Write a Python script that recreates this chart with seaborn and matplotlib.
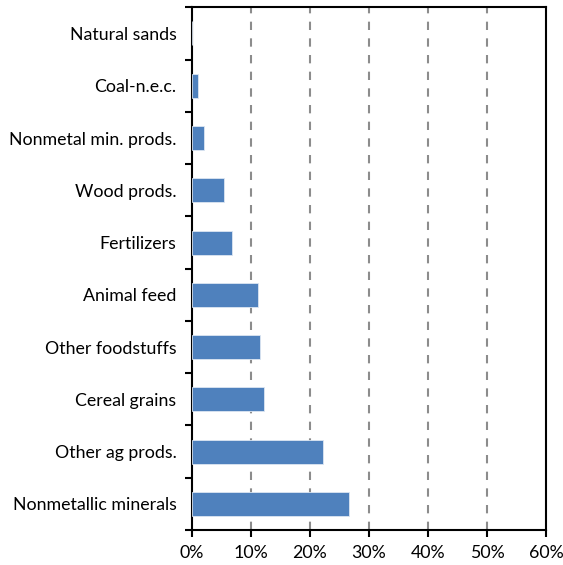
import matplotlib
matplotlib.use("Agg")
import matplotlib.pyplot as plt
import seaborn as sns
import pandas as pd
from matplotlib.ticker import FixedLocator, PercentFormatter

categories = [
    "Natural sands",
    "Coal-n.e.c.",
    "Nonmetal min. prods.",
    "Wood prods.",
    "Fertilizers",
    "Animal feed",
    "Other foodstuffs",
    "Cereal grains",
    "Other ag prods.",
    "Nonmetallic minerals",
]
shares = [0.0, 1.0, 2.0, 5.4, 6.8, 11.2, 11.5, 12.2, 22.2, 26.6]
x_ticks = [0, 10, 20, 30, 40, 50, 60]

df = pd.DataFrame({"category": categories, "share": shares})

sns.set_style("white")
plt.rcParams["font.family"] = ["Lato", "DejaVu Sans"]

fig = plt.figure(figsize=(5.63, 5.65), dpi=100)
ax = fig.add_axes([0.3405, 0.062, 0.6293, 0.925])

sns.barplot(data=df, x="share", y="category", order=categories, orient="h",
            color="#4F81BD", saturation=1, width=0.46,
            edgecolor="#DCE6F2", linewidth=0.6, ax=ax, zorder=3)

ax.set_xlim(0, 60)
ax.set_ylim(len(categories) - 0.5, -0.5)
ax.xaxis.set_major_locator(FixedLocator(x_ticks))
ax.xaxis.set_major_formatter(PercentFormatter(decimals=0))

for v in x_ticks[1:-1]:
    ax.axvline(v, color="#8C8C8C", linestyle=(0, (4, 4)), linewidth=1.5, zorder=1)

ax.yaxis.set_minor_locator(FixedLocator([i - 0.5 for i in range(len(categories) + 1)]))
ax.tick_params(axis="y", which="major", length=0, pad=11, labelsize=12.8, labelcolor="black")
ax.tick_params(axis="y", which="minor", length=5, width=1.5, color="black", direction="out", left=True)
ax.tick_params(axis="x", which="major", length=5, width=1.5, color="black", direction="out",
               bottom=True, labelsize=12.8, labelcolor="black", pad=6)

for s in ax.spines.values():
    s.set_visible(True)
    s.set_color("black")
    s.set_linewidth(1.5)

ax.set_xlabel("")
ax.set_ylabel("")

fig.savefig("out.png", dpi=100)
